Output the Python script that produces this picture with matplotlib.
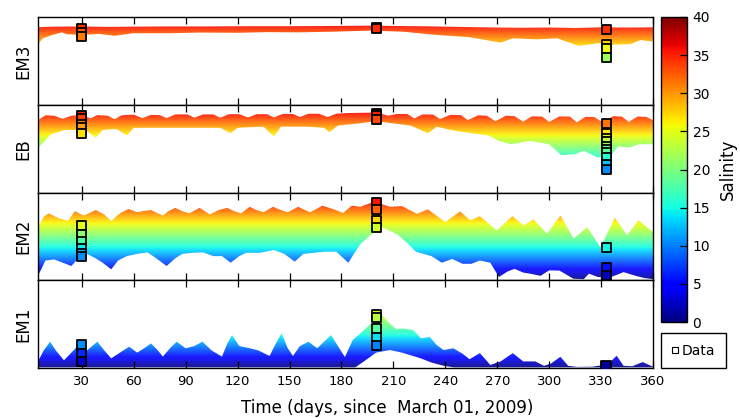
import numpy as np
import matplotlib as mpl
mpl.use('Agg')
import matplotlib.pyplot as plt
from matplotlib.lines import Line2D

# panels, top to bottom
panels = ['EM3', 'EB', 'EM2', 'EM1']

# upper / lower edge of the modelled salinity band in each panel (day, psu)
em3_top_day = [4.7, 15, 30, 45, 60, 80, 100, 125, 150, 170, 190, 200, 210, 225, 240, 255, 270, 285, 300, 315, 330, 345, 360]
em3_top = [35.4, 35.6, 35.7, 35.5, 35.6, 35.7, 35.7, 35.8, 35.8, 35.9, 36.0, 36.1, 35.9, 35.8, 35.6, 35.4, 35.2, 35.1, 35.2, 35.0, 35.3, 35.2, 35.3]
em3_bot_day = [4.7, 7.6, 13, 18.5, 21, 29, 40, 49, 59.5, 80, 98, 120, 137, 155, 175, 196.6, 215.7, 235, 254, 272, 279, 293, 304.7, 317, 328, 335, 347, 352.7, 360]
em3_bot = [27.5, 30.3, 31.8, 33.0, 32.2, 31.8, 32.3, 31.4, 32.6, 32.6, 32.9, 32.8, 33.1, 33.0, 33.3, 33.8, 33.3, 31.8, 30.8, 28.3, 30.3, 29.8, 30.3, 26.8, 28.0, 27.3, 27.6, 29.5, 28.8]

eb_top_day = [4.7, 9, 14, 19, 24, 30, 35, 39, 45, 49, 53, 60, 65, 70, 75, 79, 84, 91, 95, 100, 106, 110, 115, 121, 126, 131, 137, 141, 146, 152, 156, 161, 167, 172, 177, 183, 190, 197, 203, 207, 212, 218, 222, 227, 233, 237, 243, 249, 253, 259, 264, 269, 275, 280, 285, 290, 296, 300, 306, 312, 316, 321, 326, 331, 337, 342, 346, 351, 356, 360]
eb_top = [33.0, 35.2, 35.0, 33.6, 35.0, 35.4, 33.8, 35.3, 35.0, 33.4, 35.2, 35.5, 33.9, 35.4, 35.3, 33.9, 35.6, 35.6, 34.1, 35.6, 35.6, 34.1, 35.7, 35.7, 34.2, 35.7, 35.7, 34.2, 35.8, 35.8, 34.4, 35.9, 35.9, 34.4, 35.9, 36.2, 36.3, 36.4, 35.9, 35.0, 35.8, 35.8, 33.8, 35.6, 35.5, 33.5, 35.4, 35.3, 33.0, 35.2, 35.0, 32.5, 35.0, 34.8, 32.3, 34.7, 34.6, 32.2, 34.7, 34.6, 32.0, 34.5, 34.4, 32.0, 34.8, 34.6, 32.2, 34.6, 34.5, 33.0]
eb_bot_day = [4.7, 8, 12, 20, 27, 33, 38, 42, 50, 56, 60, 70, 85, 100, 110, 116, 120, 135, 141, 145, 160, 170, 173, 178, 190, 200, 210, 220, 230, 235, 243, 255, 265, 271, 278, 289, 300, 307, 315, 320, 328, 335, 340, 346, 352, 360]
eb_bot = [20.5, 23.0, 26.5, 28.5, 28.5, 28.0, 25.0, 28.5, 29.0, 26.0, 29.5, 29.5, 29.5, 29.5, 29.5, 27.0, 29.5, 30.0, 25.5, 30.0, 30.0, 29.5, 27.5, 30.5, 31.5, 32.5, 31.5, 30.5, 27.0, 30.0, 28.5, 27.0, 26.0, 23.5, 22.0, 23.5, 22.0, 17.0, 17.5, 19.0, 16.0, 16.5, 21.0, 20.5, 22.0, 22.0]

em2_top_day = [4.7, 8, 11, 16, 22, 26, 31, 34, 38, 43, 47, 52, 57, 62, 65, 70, 74, 77, 80, 84, 88, 92, 98, 104, 109, 114, 118, 122, 127, 131, 135, 140.5, 145, 149, 155, 159, 162, 169, 175, 181, 186, 191, 197, 203, 208, 215, 223.6, 230, 240, 248.6, 254.4, 260, 269.8, 278.7, 285.2, 291, 298.8, 306.5, 314.2, 322, 329.6, 338, 345, 351.6, 360]
em2_top = [24.0, 29.0, 30.5, 28.5, 27.0, 31.5, 29.5, 30.5, 32.0, 30.0, 27.0, 30.5, 32.5, 31.0, 31.5, 32.0, 30.5, 29.5, 31.5, 33.0, 31.5, 30.5, 33.0, 30.0, 32.0, 33.0, 31.5, 30.5, 33.5, 32.0, 31.0, 33.5, 32.0, 31.0, 33.5, 32.0, 31.0, 34.0, 32.5, 30.7, 34.0, 33.5, 35.3, 34.8, 33.5, 33.8, 30.3, 32.3, 26.5, 31.4, 27.3, 29.2, 22.7, 29.2, 25.0, 27.7, 21.2, 29.5, 19.0, 24.2, 15.0, 28.5, 20.5, 27.3, 22.0]
em2_bot_day = [4.7, 9, 14, 19, 24, 28, 33, 38, 42, 47, 51, 56, 62, 68, 73, 79, 84, 88, 94, 100, 106, 111, 116, 121, 125, 133, 141, 147, 153, 158, 164, 170, 177, 184, 188, 191, 198, 204, 212, 218, 223, 232, 238, 244, 250, 255, 260, 266, 271, 276, 280, 285, 289, 295, 300, 306, 314, 320, 323, 328, 335, 343, 350, 355, 360]
em2_bot = [2.0, 9.0, 9.5, 8.0, 6.5, 10.0, 12.0, 10.0, 8.0, 5.0, 9.0, 11.0, 12.0, 12.7, 10.0, 6.5, 10.0, 12.0, 12.5, 12.7, 11.0, 11.0, 8.0, 11.0, 12.5, 12.5, 13.8, 12.0, 8.5, 12.0, 12.5, 13.0, 13.0, 8.0, 13.0, 16.5, 21.5, 24.0, 21.0, 17.0, 13.0, 11.0, 8.0, 9.7, 7.5, 7.5, 9.0, 8.0, 1.5, 4.0, 5.2, 3.5, 3.0, 2.0, 4.5, 4.4, 0.7, 0.5, 3.0, 1.5, 1.2, 3.7, 2.0, 1.0, 0.5]

em1_top_day = [4.7, 8, 11.7, 15, 19.7, 24, 28.9, 33, 36, 39, 43, 47, 52, 57.4, 62, 66, 70, 74, 76.8, 81, 84.8, 90, 95, 99.7, 105, 111, 114, 116.8, 121, 127, 132, 138.5, 142, 145.4, 149, 152, 156, 161, 166, 170, 174, 178, 182, 186.5, 193, 198, 202.5, 207, 211.6, 216, 221.5, 226, 231, 235, 239, 244.6, 250, 254, 260, 266, 272, 279, 285, 292, 297, 301, 306.5, 311, 316, 325, 330, 335, 339, 343, 348, 354, 360]
em1_top = [3.0, 8.0, 12.0, 8.0, 3.5, 7.0, 11.2, 8.0, 10.0, 12.0, 8.0, 4.4, 7.0, 9.7, 7.0, 9.0, 11.2, 8.0, 5.2, 9.0, 12.0, 9.0, 10.0, 12.0, 8.0, 5.2, 11.0, 15.0, 10.0, 9.0, 8.0, 5.5, 11.0, 15.8, 9.0, 5.5, 10.0, 12.0, 9.0, 12.0, 15.0, 10.0, 5.0, 12.7, 17.3, 21.0, 25.0, 21.0, 17.8, 18.0, 17.3, 13.5, 14.2, 10.5, 8.2, 9.0, 6.5, 4.0, 6.8, 1.4, 3.0, 6.8, 3.0, 3.0, 1.0, 2.0, 5.1, 1.0, 0.5, 0.6, 1.2, 2.5, 5.6, 1.0, 0.8, 2.7, 0.6]
em1_bot_day = [4.7, 188, 193, 200, 208, 215, 225.5, 232, 239, 245, 360]
em1_bot = [0.3, 0.3, 3.0, 7.0, 8.2, 7.0, 4.5, 2.5, 1.0, 0.3, 0.3]

# observed profiles (squares)
obs_day = [30, 200, 333]
em3_obs = [[34.6, 32.8, 31.2], [35.0, 34.6], [34.5, 27.6, 25.5, 21.7]]
eb_obs = [[35.0, 33.8, 31.0, 29.6, 26.8], [36.2, 35.0, 33.2], [31.4, 26.7, 24.8, 23.3, 21.0, 19.5, 18.3, 15.8, 12.7, 10.5]]
em2_obs = [[25.0, 20.8, 17.7, 14.4, 12.1, 10.6], [35.6, 32.3, 27.3, 24.2], [14.9, 5.6, 2.3]]
em1_obs = [[10.5, 6.7, 2.9], [24.5, 23.0, 18.2, 14.0, 10.2], [0.8]]

xticks = [30, 60, 90, 120, 150, 180, 210, 240, 270, 300, 330, 360]
cbar_ticks = [0, 5, 10, 15, 20, 25, 30, 35, 40]

bands = {
    'EM3': (em3_top_day, em3_top, em3_bot_day, em3_bot, em3_obs),
    'EB': (eb_top_day, eb_top, eb_bot_day, eb_bot, eb_obs),
    'EM2': (em2_top_day, em2_top, em2_bot_day, em2_bot, em2_obs),
    'EM1': (em1_top_day, em1_top, em1_bot_day, em1_bot, em1_obs),
}

cmap = plt.get_cmap('jet')
norm = mpl.colors.Normalize(vmin=0, vmax=40)
grad = np.linspace(0, 40, 400).reshape(-1, 1)


def main():
    fig = plt.figure(figsize=(7.4, 4.18), dpi=100)
    left, right = 38/740, 653/740
    top, bottom = 1 - 17/418, 1 - 368/418
    h = (top - bottom) / 4.0

    for i, name in enumerate(panels):
        ax = fig.add_axes([left, top - (i+1)*h, right - left, h])
        tday, tval, bday, bval, obs = bands[name]
        xs = list(tday) + list(bday)[::-1]
        ys = list(tval) + list(bval)[::-1]
        poly = ax.fill(xs, ys, facecolor='none', edgecolor='none')[0]
        im = ax.imshow(grad, cmap=cmap, norm=norm, origin='lower', aspect='auto',
                       extent=(4.7, 360, 0, 40), interpolation='bilinear', alpha=0.9)
        im.set_clip_path(poly)

        for d, vals in zip(obs_day, obs):
            ax.scatter([d]*len(vals), vals, c=vals, cmap=cmap, norm=norm, marker='s',
                       s=42, edgecolors='black', linewidths=1.3, zorder=5)

        ax.set_xlim(4.7, 360)
        ax.set_ylim(0, 40)
        ax.set_yticks([])
        ax.set_xticks(xticks)
        ax.tick_params(axis='x', direction='in', top=True, length=5, width=0.9,
                       labelsize=9.5, pad=5)
        if i < 3:
            ax.tick_params(axis='x', labelbottom=False)
        ax.set_ylabel(name, fontsize=12, labelpad=4)
        for sp in ax.spines.values():
            sp.set_linewidth(1.0)
        if i == 3:
            ax.set_xlabel('Time (days, since  March 01, 2009)', fontsize=12)
            ax.xaxis.set_label_coords(0.567, -0.355)

    cax = fig.add_axes([661/740, 1 - 322/418, 26/740, 305/418])
    sm = mpl.cm.ScalarMappable(norm=norm, cmap=cmap)
    cb = fig.colorbar(sm, cax=cax, ticks=cbar_ticks)
    cb.ax.tick_params(direction='in', length=5, width=0.9, labelsize=10, pad=4)
    cb.set_label('Salinity', fontsize=12, labelpad=6)
    cb.outline.set_linewidth(1.0)

    handle = Line2D([], [], linestyle='none', marker='s', markersize=4,
                    markerfacecolor='white', markeredgecolor='black', markeredgewidth=0.8)
    fig.legend([handle], ['Data'], loc='lower left', bbox_to_anchor=(661/740, 50/418),
               borderaxespad=0, fancybox=False, edgecolor='black', fontsize=10,
               handlelength=0.5, handletextpad=0.25, borderpad=0.75, framealpha=1)

    fig.savefig('out.png', dpi=100)


if __name__ == '__main__':
    main()
